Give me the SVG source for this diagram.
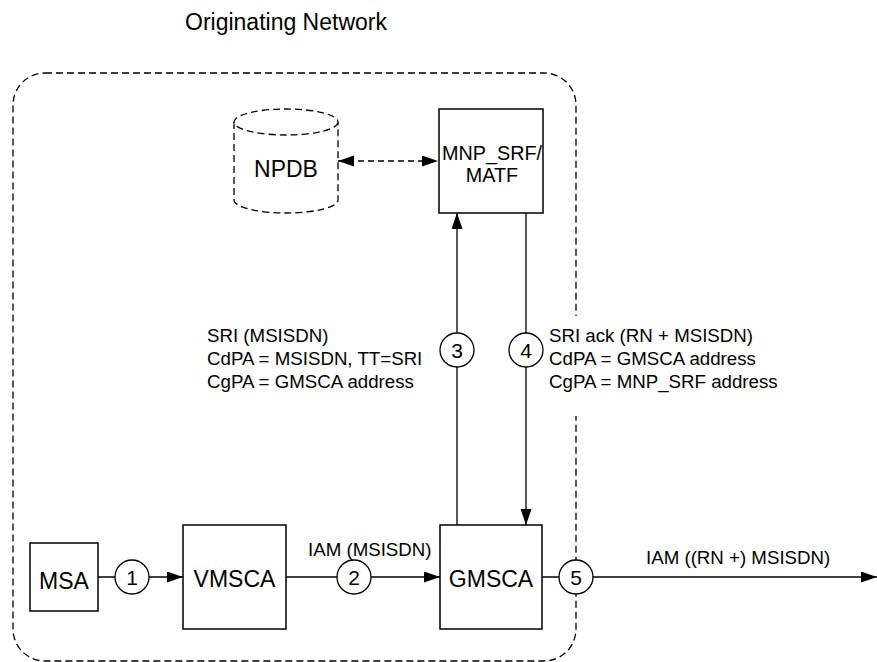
<svg xmlns="http://www.w3.org/2000/svg" width="877" height="662" viewBox="0 0 877 662">
<style>
.box{fill:#fff;stroke:#000;stroke-width:1.5}
.dash{fill:none;stroke:#000;stroke-width:1.3;stroke-dasharray:7,4}
.ln{fill:none;stroke:#000;stroke-width:1.3}
.circ{fill:#fff;stroke:#000;stroke-width:1.3}
text{font-family:"Liberation Sans",Arial,sans-serif;fill:#000}
.nm{font-size:23px;text-anchor:middle}
.num{font-size:21px;text-anchor:middle}
.lb{font-size:18.7px}
</style>
<defs>
<marker id="ah" markerUnits="userSpaceOnUse" markerWidth="17" markerHeight="12" refX="16" refY="5.5" orient="auto-start-reverse">
<path d="M0,0 L16,5.5 L0,11 z" fill="#000"/>
</marker>
</defs>
<text x="185" y="30" style="font-size:23px">Originating Network</text>
<rect id="boundary" x="13" y="73" width="563" height="588" rx="32" ry="32" class="dash"/>
<g id="connectors">
<line x1="338" y1="161" x2="438" y2="161" class="ln" style="stroke-dasharray:6,4" marker-start="url(#ah)" marker-end="url(#ah)"/>
<line x1="98" y1="577" x2="183" y2="577" class="ln" marker-end="url(#ah)"/>
<line x1="286" y1="577" x2="440" y2="577" class="ln" marker-end="url(#ah)"/>
<line x1="457" y1="525" x2="457" y2="213" class="ln" marker-end="url(#ah)"/>
<line x1="526" y1="213" x2="526" y2="525" class="ln" marker-end="url(#ah)"/>
<line x1="542" y1="577" x2="877" y2="577" class="ln" marker-end="url(#ah)"/>
<circle cx="132" cy="577" r="17" class="circ"/>
<text x="132" y="585" class="num">1</text>
<circle cx="354" cy="577" r="17" class="circ"/>
<text x="354" y="585" class="num">2</text>
<circle cx="457" cy="350" r="17" class="circ"/>
<text x="457" y="358" class="num">3</text>
<circle cx="526" cy="350" r="17" class="circ"/>
<text x="526" y="358" class="num">4</text>
<circle cx="576" cy="577" r="17" class="circ"/>
<text x="576" y="585" class="num">5</text>
<text x="308" y="556" class="lb">IAM (MSISDN)</text>
<text x="646" y="564" class="lb">IAM ((RN +) MSISDN)</text>
<text x="207" y="342" class="lb">SRI (MSISDN)</text>
<text x="207" y="365" class="lb">CdPA = MSISDN, TT=SRI</text>
<text x="207" y="388" class="lb">CgPA = GMSCA address</text>
<rect x="568" y="316" width="16" height="100" fill="#fff"/>
<text x="549" y="342" class="lb">SRI ack (RN + MSISDN)</text>
<text x="549" y="365" class="lb">CdPA = GMSCA address</text>
<text x="549" y="388" class="lb">CgPA = MNP_SRF address</text>
</g>
<g id="npdb">
<path d="M234,122 L234,200 A52,13 0 0 0 338,200 L338,122" class="dash" style="fill:#fff"/>
<ellipse cx="286" cy="122" rx="52" ry="13" class="dash" style="fill:#fff"/>
<text x="286" y="177" class="nm">NPDB</text>
</g>
<g id="mnp">
<rect x="439" y="109" width="104" height="104" class="box"/>
<text x="492" y="160" class="nm" style="font-size:19.8px">MNP_SRF/</text>
<text x="492" y="182" class="nm" style="font-size:19.8px">MATF</text>
</g>
<g id="msa">
<rect x="30" y="543" width="68" height="68" class="box"/>
<text x="64" y="589" class="nm">MSA</text>
</g>
<g id="vmsca">
<rect x="183" y="525" width="103" height="104" class="box"/>
<text x="234.5" y="587" class="nm">VMSCA</text>
</g>
<g id="gmsca">
<rect x="440" y="525" width="102" height="104" class="box"/>
<text x="491" y="587" class="nm">GMSCA</text>
</g>
</svg>
